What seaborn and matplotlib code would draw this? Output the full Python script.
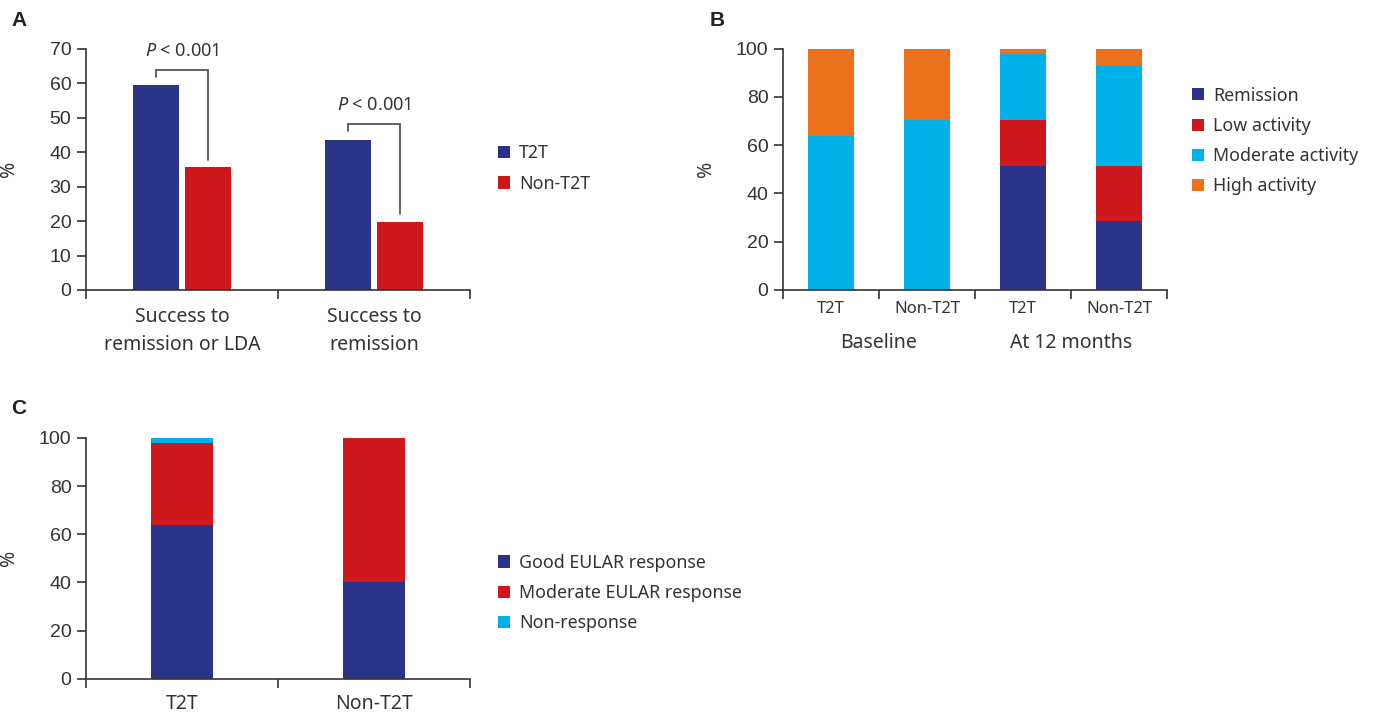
import numpy as np
import pandas as pd
import matplotlib.pyplot as plt
import seaborn as sns
from matplotlib.patches import Patch

# Panel A: success rates (%)
a_outcomes = ["Success to\nremission or LDA", "Success to\nremission"]
a_groups = ["T2T", "Non-T2T"]
a_t2t = [59.5, 43.5]
a_non_t2t = [35.7, 19.7]
a_pvalue_text = ["< 0.001", "< 0.001"]
# bracket heights: left leg end, top, right leg end
a_bracket_left = [61.8, 46.1]
a_bracket_top = [63.9, 48.2]
a_bracket_right = [37.7, 22.0]

# Panel B: disease activity (%)
b_times = ["Baseline", "Baseline", "At 12 months", "At 12 months"]
b_groups = ["T2T", "Non-T2T", "T2T", "Non-T2T"]
b_levels = ["Remission", "Low activity", "Moderate activity", "High activity"]
b_remission = [0.0, 0.0, 51.5, 28.5]
b_low = [0.0, 0.0, 19.0, 23.0]
b_moderate = [64.0, 70.5, 27.5, 41.5]
b_high = [36.0, 29.5, 2.0, 7.0]

# Panel C: EULAR response (%)
c_groups = ["T2T", "Non-T2T"]
c_levels = ["Good EULAR response", "Moderate EULAR response", "Non-response"]
c_good = [64.0, 40.0]
c_moderate = [34.0, 60.0]
c_none = [2.0, 0.0]

NAVY = "#283389"
RED = "#CE181E"
CYAN = "#00B0E9"
ORANGE = "#EC711A"
DARK = "#333333"
W, H = 1375, 715

sns.set_theme(style="ticks")
plt.rcParams["font.family"] = ["Noto Sans", "DejaVu Sans"]
plt.rcParams["text.color"] = DARK
plt.rcParams["axes.edgecolor"] = DARK
plt.rcParams["axes.linewidth"] = 1.2
plt.rcParams["xtick.color"] = DARK
plt.rcParams["ytick.color"] = DARK
plt.rcParams["mathtext.fontset"] = "custom"
plt.rcParams["mathtext.it"] = "Noto Sans:italic"

fig = plt.figure(figsize=(W / 100, H / 100), dpi=100)


def px_axes(left, top, right, bottom):
    return fig.add_axes([left / W, 1 - bottom / H, (right - left) / W, (bottom - top) / H])


def style_axis(ax, n, ymax, ystep, xfont):
    sns.despine(ax=ax)
    ax.set_xlim(-0.5, n - 0.5)
    ax.set_ylim(0, ymax)
    ax.set_yticks(np.arange(0, ymax + 1, ystep))
    ax.set_xticks(np.arange(n + 1) - 0.5, minor=True)
    ax.tick_params(axis="x", which="major", length=0, pad=7, labelsize=xfont)
    ax.tick_params(axis="x", which="minor", length=6.5, width=1.2, color=DARK)
    ax.tick_params(axis="y", length=6.5, width=1.2, color=DARK, pad=4, labelsize=14)
    for lab in ax.get_yticklabels():
        lab.set_fontfamily("Liberation Sans")
    ax.set_xlabel("")
    ax.set_ylabel("%", fontsize=14, color=DARK)
    ax.yaxis.set_label_coords(-0.175, 0.5)


def stacked(ax, keys, parts, names, colors, width):
    rows = []
    cum = np.zeros(len(keys))
    for name, vals in zip(names, parts):
        cum = cum + np.array(vals)
        for k, v in zip(keys, cum):
            rows.append({"key": k, "level": name, "top": v})
    df = pd.DataFrame(rows)
    sns.barplot(data=df, x="key", y="top", hue="level", order=keys,
                hue_order=names[::-1], palette=dict(zip(names, colors)),
                dodge=False, width=width, saturation=1, errorbar=None,
                legend=False, linewidth=0, ax=ax)


def legend(handles_colors, labels, x, y):
    handles = [Patch(facecolor=c, edgecolor="none") for c in handles_colors]
    fig.legend(handles, labels, loc="center left", bbox_to_anchor=(x / W, 1 - y / H),
               frameon=False, fontsize=12.8, handlelength=0.68, handleheight=0.68,
               handletextpad=0.5, labelspacing=0.69, borderpad=0, borderaxespad=0,
               labelcolor=DARK)


# ---------- Panel A ----------
axA = px_axes(86, 48.7, 470, 290)
dfA = pd.DataFrame({
    "outcome": a_outcomes * 2,
    "group": [a_groups[0]] * 2 + [a_groups[1]] * 2,
    "value": a_t2t + a_non_t2t,
})
sns.barplot(data=dfA, x="outcome", y="value", hue="group", hue_order=a_groups,
            palette=[NAVY, RED], width=0.55, gap=0.13, saturation=1,
            errorbar=None, legend=False, linewidth=0, ax=axA)
style_axis(axA, 2, 70, 10, 14)
axA.tick_params(axis="x", which="major", pad=12)
for lab in axA.get_xticklabels():
    lab.set_linespacing(1.55)

bars = axA.patches
for i in range(2):
    b1 = bars[i]
    b2 = bars[i + 2]
    x1 = b1.get_x() + b1.get_width() / 2
    x2 = b2.get_x() + b2.get_width() / 2
    axA.plot([x1, x1, x2, x2], [a_bracket_left[i], a_bracket_top[i], a_bracket_top[i], a_bracket_right[i]],
             color="#555555", lw=1.3, solid_joinstyle="miter", clip_on=False)
    axA.text((x1 + x2) / 2, a_bracket_top[i] + 5.4, r"$P$ " + a_pvalue_text[i],
             ha="center", va="center", fontsize=13, color=DARK)

legend([NAVY, RED], a_groups, 498, 168.5)

# ---------- Panel B ----------
axB = px_axes(783, 48.7, 1167, 290)
b_keys = [t + " " + g for t, g in zip(b_times, b_groups)]
stacked(axB, b_keys, [b_remission, b_low, b_moderate, b_high], b_levels,
        [NAVY, RED, CYAN, ORANGE], 0.48)
style_axis(axB, 4, 100, 20, 12)
axB.set_xticks(np.arange(4))
axB.set_xticklabels(b_groups)
axB.tick_params(axis="x", which="major", pad=8)
for i, t in enumerate(dict.fromkeys(b_times)):
    idx = [j for j, tt in enumerate(b_times) if tt == t]
    axB.text(np.mean(idx), -0.22, t, transform=axB.get_xaxis_transform(),
             ha="center", va="center", fontsize=14, color=DARK)

legend([NAVY, RED, CYAN, ORANGE], b_levels, 1192, 141)

# ---------- Panel C ----------
axC = px_axes(86, 438, 470, 678.7)
stacked(axC, c_groups, [c_good, c_moderate, c_none], c_levels, [NAVY, RED, CYAN], 0.32)
style_axis(axC, 2, 100, 20, 14)
axC.tick_params(axis="x", which="major", pad=11)

legend([NAVY, RED, CYAN], c_levels, 498, 593)

# panel letters
for letter, x, y in [("A", 19, 20), ("B", 717, 20), ("C", 19, 409)]:
    fig.text(x / W, 1 - y / H, letter, ha="center", va="center", family="Liberation Sans",
             fontsize=15, fontweight="bold", color="#222222")

fig.savefig("out.png", dpi=100)
